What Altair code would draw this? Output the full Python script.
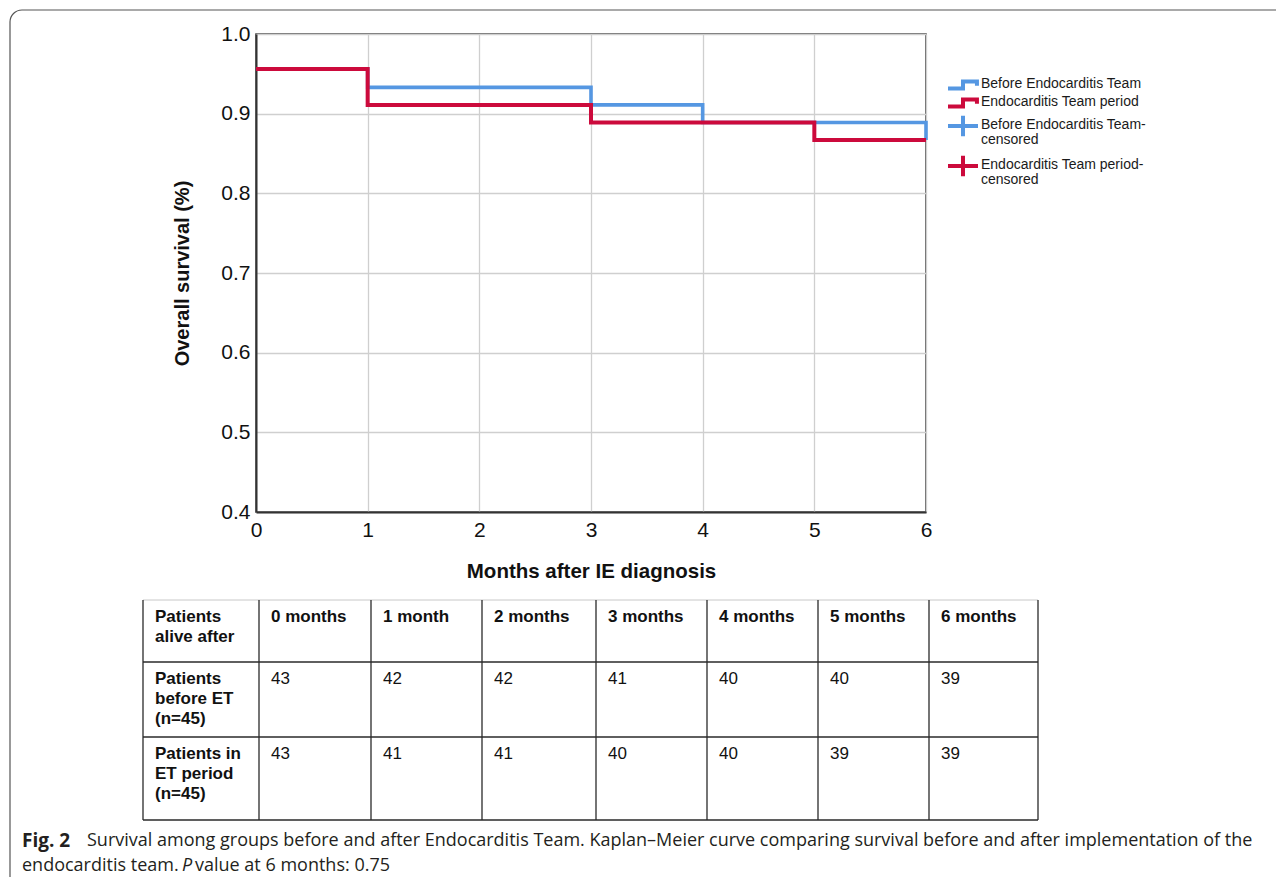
import altair as alt
import pandas as pd

# ---------------- data ----------------
months_before = [0, 1, 3, 4, 6]
surv_before = [0.956, 0.933, 0.911, 0.889, 0.867]
months_et = [0, 1, 3, 5, 6]
surv_et = [0.956, 0.911, 0.889, 0.867, 0.867]

x_ticks = [0, 1, 2, 3, 4, 5, 6]
y_ticks = [0.4, 0.5, 0.6, 0.7, 0.8, 0.9, 1.0]

series_names = ["Before Endocarditis Team", "Endocarditis Team period"]
legend_labels = [
    "Before Endocarditis Team",
    "Endocarditis Team period",
    "Before Endocarditis Team-\ncensored",
    "Endocarditis Team period-\ncensored",
]
legend_series = [series_names[0], series_names[1], series_names[0], series_names[1]]
legend_kind = ["step", "step", "cross", "cross"]

table_corner = "Patients\nalive after"
table_col_headers = ["0 months", "1 month", "2 months", "3 months", "4 months", "5 months", "6 months"]
table_row_headers = ["Patients\nbefore ET\n(n=45)", "Patients in\nET period\n(n=45)"]
alive_before = [43, 42, 42, 41, 40, 40, 39]
alive_et = [43, 41, 41, 40, 40, 39, 39]

caption_bold = "Fig. 2"
caption_line1 = ("Survival among groups before and after Endocarditis Team. Kaplan\u2013Meier curve "
                 "comparing survival before and after implementation of the")
caption_line2a = "endocarditis team."
caption_line2p = "P"
caption_line2b = "value at 6 months: 0.75"

# ---------------- styles ----------------
BLUE = "#5597E2"
RED = "#CC0A3C"
FONT = "Liberation Sans"
CAP_FONT = "Open Sans"
STEP_PATH = "M-1,0.24L0,0.24L0,-0.24L0.93,-0.24L0.93,0.05"
CROSS_PATH = "M-1,0L1,0M0,-0.68L0,0.68"

W, H = 670, 478
PAD = {"left": 248, "top": 26, "right": 350, "bottom": 365}

# ---------------- KM curves ----------------
km_before = pd.DataFrame({"month": months_before, "survival": surv_before})
km_et = pd.DataFrame({"month": months_et, "survival": surv_et})

xs = alt.Scale(domain=[0, 6], nice=False, zero=False)
ys = alt.Scale(domain=[0.4, 1.0], nice=False, zero=False)

blue = alt.Chart(km_before).mark_line(
    interpolate="step-after", color=BLUE, strokeWidth=3.6, strokeJoin="miter"
).encode(
    x=alt.X("month:Q", scale=xs, axis=alt.Axis(
        values=x_ticks, format="d", title="Months after IE diagnosis", grid=True,
        labelFlush=False, labelPadding=7, titlePadding=21, titleFontSize=20.5)),
    y=alt.Y("survival:Q", scale=ys, axis=alt.Axis(
        values=y_ticks, format=".1f", title="Overall survival (%)", grid=True,
        labelFlush=False, labelPadding=6, titlePadding=28, titleFontSize=20)),
)
red = alt.Chart(km_et).mark_line(
    interpolate="step-after", color=RED, strokeWidth=4, strokeJoin="miter"
).encode(
    x=alt.X("month:Q", scale=xs, axis=None),
    y=alt.Y("survival:Q", scale=ys, axis=None),
)

# ---------------- table ----------------
cells = []
cells.append({"col": 0, "row": 0, "text": table_corner, "bold": True})
for i, h in enumerate(table_col_headers):
    cells.append({"col": i + 1, "row": 0, "text": h, "bold": True})
for r, (hdr, vals) in enumerate(zip(table_row_headers, [alive_before, alive_et])):
    cells.append({"col": 0, "row": r + 1, "text": hdr, "bold": True})
    for i, v in enumerate(vals):
        cells.append({"col": i + 1, "row": r + 1, "text": str(v), "bold": False})
cells_df = pd.DataFrame(cells)

n_cols = len(table_col_headers) + 1
n_rows = len(table_row_headers) + 1
col_edges_px = [-113, 3, 115, 226, 340, 451, 562, 673, 782]
row_edges_px = [566, 628, 703, 786]
tx = alt.Scale(domain=list(range(n_cols + 1)), range=col_edges_px, nice=False, zero=False)
ty = alt.Scale(domain=list(range(n_rows + 1)), range=row_edges_px, nice=False, zero=False)

vl_df = pd.DataFrame({"b": list(range(n_cols + 1)), "r0": 0, "r1": n_rows})
vlines = alt.Chart(vl_df).mark_rule(color="#2a2a2a", strokeWidth=1.3).encode(
    x=alt.X("b:Q", scale=tx, axis=None),
    y=alt.Y("r0:Q", scale=ty, axis=None),
    y2="r1:Q",
)
hl_df = pd.DataFrame({"b": list(range(1, n_rows + 1)), "c0": 0, "c1": n_cols})
hlines = alt.Chart(hl_df).mark_rule(color="#2a2a2a", strokeWidth=1.3).encode(
    y=alt.Y("b:Q", scale=ty, axis=None),
    x=alt.X("c0:Q", scale=tx, axis=None),
    x2="c1:Q",
)
top_df = pd.DataFrame({"b": [0], "c0": [0], "c1": [n_cols]})
topline = alt.Chart(top_df).mark_rule(color="#c8c8c8", strokeWidth=1).encode(
    y=alt.Y("b:Q", scale=ty, axis=None),
    x=alt.X("c0:Q", scale=tx, axis=None),
    x2="c1:Q",
)

def cell_text(bold):
    return alt.Chart(cells_df[cells_df["bold"] == bold]).mark_text(
        align="left", baseline="top", dx=12, dy=9, lineBreak="\n", lineHeight=20,
        font=FONT, fontSize=17, fontWeight="bold" if bold else "normal", color="#111",
    ).encode(
        x=alt.X("col:Q", scale=tx, axis=None),
        y=alt.Y("row:Q", scale=ty, axis=None),
        text="text:N",
    )

# ---------------- legend ----------------
leg_df = pd.DataFrame({"idx": list(range(len(legend_labels))), "label": legend_labels,
                       "series": legend_series, "kind": legend_kind})
ly = alt.Scale(domain=[0, 1, 2, 3], range=[51, 69, 92, 132], nice=False, zero=False)
leg_icons = alt.Chart(leg_df).mark_point(
    filled=False, strokeWidth=4, size=900, opacity=1, strokeCap="butt"
).encode(
    x=alt.value(707),
    y=alt.Y("idx:Q", scale=ly, axis=None),
    shape=alt.Shape("kind:N", scale=alt.Scale(domain=["step", "cross"], range=[STEP_PATH, CROSS_PATH]), legend=None),
    color=alt.Color("series:N", scale=alt.Scale(domain=series_names, range=[BLUE, RED]), legend=None),
)
leg_text = alt.Chart(leg_df).mark_text(
    align="left", baseline="top", dy=-8, lineBreak="\n", lineHeight=15,
    font=FONT, fontSize=14, color="#1a1a1a",
).encode(
    x=alt.value(725),
    y=alt.Y("idx:Q", scale=ly, axis=None),
    text="label:N",
)

# ---------------- frame & caption ----------------
one = pd.DataFrame({"a": [0]})
border = alt.Chart(one).mark_rect(
    fillOpacity=0, stroke="#555555", strokeWidth=1.2, cornerRadius=12
).encode(x=alt.value(-246), x2=alt.value(1050), y=alt.value(-24), y2=alt.value(880))

def cap(txt, x, y, weight="normal", style="normal", size=18):
    return alt.Chart(one).mark_text(
        align="left", baseline="middle", font=CAP_FONT, fontSize=size,
        fontWeight=weight, fontStyle=style, color="#231f20", text=txt,
    ).encode(x=alt.value(x), y=alt.value(y))

chart = alt.layer(
    blue, red,
    topline, vlines, hlines, cell_text(True), cell_text(False),
    leg_icons, leg_text,
    border,
    cap(caption_bold, -234, 807, weight="bold", size=19),
    cap(caption_line1, -169, 807),
    cap(caption_line2a, -234, 832),
    cap(caption_line2p, -74, 832, style="italic"),
    cap(caption_line2b, -61, 832),
).resolve_scale(
    x="independent", y="independent", color="independent", shape="independent"
).properties(
    width=W, height=H, autosize=alt.AutoSizeParams(type="none"), padding=PAD,
).configure(background="white").configure_view(
    stroke="#3a3a3a", strokeWidth=1.5
).configure_axis(
    domainColor="#333333", domainWidth=2, gridColor="#cfcfcf", gridWidth=1.3,
    ticks=False, labelFont=FONT, labelFontSize=21, labelColor="#111",
    titleFont=FONT, titleFontSize=19, titleFontWeight="bold", titleColor="#111",
)

chart.save("out.html", embed_options={"renderer": "svg", "actions": False})
